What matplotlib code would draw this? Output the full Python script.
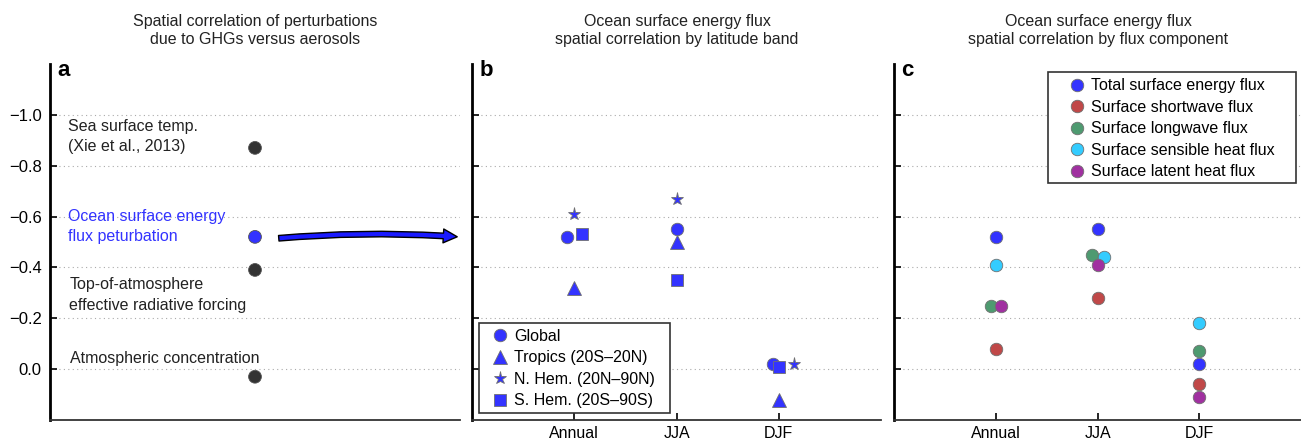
import matplotlib
matplotlib.use("Agg")
import matplotlib.pyplot as plt
from matplotlib.patches import FancyArrowPatch, Rectangle
from matplotlib.lines import Line2D
import numpy as np

plt.rcParams["font.family"] = ["Liberation Sans", "DejaVu Sans"]
plt.rcParams["font.size"] = 11.5

# panel a: correlation of GHG vs aerosol perturbations
a_labels = ["Sea surface temp.\n(Xie et al., 2013)",
            "Ocean surface energy\nflux peturbation",
            "Top-of-atmosphere\neffective radiative forcing",
            "Atmospheric concentration"]
a_values = [-0.87, -0.52, -0.39, 0.03]

# panel b: by latitude band
seasons = ["Annual", "JJA", "DJF"]
band_names = ["Global", "Tropics (20S\u201320N)", "N. Hem. (20N\u201390N)", "S. Hem. (20S\u201390S)"]
global_r = [-0.52, -0.55, -0.02]
tropics_r = [-0.32, -0.50, 0.12]
nhem_r = [-0.61, -0.67, -0.02]
shem_r = [-0.53, -0.35, -0.01]

# panel c: by flux component
comp_names = ["Total surface energy flux", "Surface shortwave flux",
              "Surface longwave flux", "Surface sensible heat flux",
              "Surface latent heat flux"]
total_r = [-0.52, -0.55, -0.02]
shortwave_r = [-0.08, -0.28, 0.06]
longwave_r = [-0.25, -0.45, -0.07]
sensible_r = [-0.41, -0.44, -0.18]
latent_r = [-0.25, -0.41, 0.11]

BLUE = "#3333ff"
comp_colors = [BLUE, "#c04848", "#4e9a70", "#33ccff", "#a030a0"]
EDGE = "#707070"

fig = plt.figure(figsize=(13.01, 4.43), dpi=100)
bottom, height = 0.052, 0.8036
ax_a = fig.add_axes([0.0384, bottom, 0.3152, height])
ax_b = fig.add_axes([0.3628, bottom, 0.3144, height])
ax_c = fig.add_axes([0.6872, bottom, 0.3128, height])

yticks = np.arange(-1.0, 0.01, 0.2)
for ax in (ax_a, ax_b, ax_c):
    ax.set_ylim(0.2, -1.2)
    ax.set_yticks(yticks)
    ax.yaxis.grid(True, linestyle=(0, (1, 3)), color="#aaaaaa", linewidth=0.8)
    ax.set_axisbelow(True)
    for s in ("top", "right"):
        ax.spines[s].set_visible(False)
    ax.spines["left"].set_linewidth(2.0)
    ax.spines["left"].set_color("black")
    ax.spines["bottom"].set_linewidth(1.3)
    ax.spines["bottom"].set_color("#333333")
    ax.tick_params(direction="in", length=5, width=1.2, colors="black")

# ---- panel a
ax_a.set_xlim(0, 1)
ax_a.set_xticks([])
ylabels = []
for v in yticks:
    s = f"{abs(v):.1f}"
    ylabels.append("\u2212" + s if v < -1e-9 else s)
ax_a.set_yticklabels(ylabels, fontsize=12)
ax_a.tick_params(axis="y", pad=6)
dot_colors = ["#333333", BLUE, "#333333", "#333333"]
ax_a.scatter([0.5] * len(a_values), a_values, s=85, c=dot_colors, edgecolors="#555555",
             linewidths=0.6, zorder=3)
text_y = [-0.915, -0.56, -0.292, -0.043]
text_c = ["#222222", BLUE, "#222222", "#222222"]
xt = [0.043, 0.043, 0.047, 0.05]
for lab, ty, tc, x in zip(a_labels, text_y, text_c, xt):
    ax_a.text(x, ty, lab, color=tc, fontsize=11.5, va="center", ha="left", linespacing=1.45)

# ---- panel b
x = np.arange(1, 4)
for ax in (ax_b, ax_c):
    ax.set_xlim(0, 4)
    ax.set_xticks(x)
    ax.set_xticklabels(seasons, fontsize=11.5)
    ax.set_yticklabels([])
    ax.tick_params(axis="x", length=5, pad=4)

mk = dict(color=BLUE, markeredgecolor=EDGE, markeredgewidth=0.6, linestyle="none", zorder=3)
ax_b.plot(x + np.array([-0.07, 0, -0.06]), global_r, "o", markersize=9, **mk)
ax_b.plot(x, tropics_r, "^", markersize=9.5, **mk)
ax_b.plot(x + np.array([0, 0, 0.15]), nhem_r, "*", markersize=9.5, **mk)
ax_b.plot(x + np.array([0.075, 0, 0]), shem_r, "s", markersize=8.5, **mk)


def boxed_legend(ax, handles, labels, anchor, frame):
    leg = ax.legend(handles, labels, loc="upper left", bbox_to_anchor=anchor,
                    fontsize=11.5, frameon=False, borderpad=0, borderaxespad=0,
                    handlelength=1.2, handletextpad=0.3, labelspacing=0.41)
    x0, y0, x1, y1 = frame
    ax.add_patch(Rectangle((x0, y0), x1 - x0, y1 - y0, transform=ax.transAxes,
                           fill=True, facecolor="white", edgecolor="#333333",
                           linewidth=1.2, zorder=4))
    leg.set_zorder(5)
    return leg


handles_b = [Line2D([], [], marker=m, markersize=s, **mk)
             for m, s in zip(["o", "^", "*", "s"], [9, 9.5, 9.5, 8.5])]
boxed_legend(ax_b, handles_b, band_names, (0.045, 0.256), (0.0171, 0.0197, 0.484, 0.2725))

# ---- panel c
cx = [x + np.array([0, 0, 0]),
      x + np.array([0, 0, 0]),
      x + np.array([-0.05, -0.05, 0]),
      x + np.array([0, 0.06, 0]),
      x + np.array([0.055, 0, 0])]
comp_series = [total_r, shortwave_r, longwave_r, sensible_r, latent_r]
for xs, vals, col in zip(cx, comp_series, comp_colors):
    ax_c.plot(xs, vals, "o", color=col, markersize=9, markeredgecolor=EDGE,
              markeredgewidth=0.6, linestyle="none", zorder=3)
handles_c = [Line2D([], [], marker="o", color=c, markersize=9, markeredgecolor=EDGE,
                    markeredgewidth=0.6, linestyle="none") for c in comp_colors]
boxed_legend(ax_c, handles_c, comp_names, (0.425, 0.960), (0.378, 0.6657, 0.988, 0.9775))

# panel letters and titles
titles = ["Spatial correlation of perturbations\ndue to GHGs versus aerosols",
          "Ocean surface energy flux\nspatial correlation by latitude band",
          "Ocean surface energy flux\nspatial correlation by flux component"]
for ax, letter in zip((ax_a, ax_b, ax_c), "abc"):
    ax.text(0.018, 1.01, letter, transform=ax.transAxes, fontsize=16, fontweight="bold",
            va="top", ha="left")
for xc, title in zip([255 / 1301, 677 / 1301, 1098 / 1301], titles):
    fig.text(xc, 1 - 30.5 / 443, title, ha="center", va="center", fontsize=11.5,
             linespacing=1.3, color="#222222")

# connecting arrow from panel a to panel b
arrow = FancyArrowPatch((276 / 1301, 1 - 238.5 / 443), (460 / 1301, 1 - 237 / 443),
                        transform=fig.transFigure,
                        connectionstyle="arc3,rad=-0.04",
                        arrowstyle="simple,head_length=1.0,head_width=1.0,tail_width=0.4",
                        mutation_scale=10, facecolor="#1a1aff", edgecolor="black",
                        linewidth=1.0)
fig.patches.append(arrow)

fig.savefig("out.png", dpi=100)
